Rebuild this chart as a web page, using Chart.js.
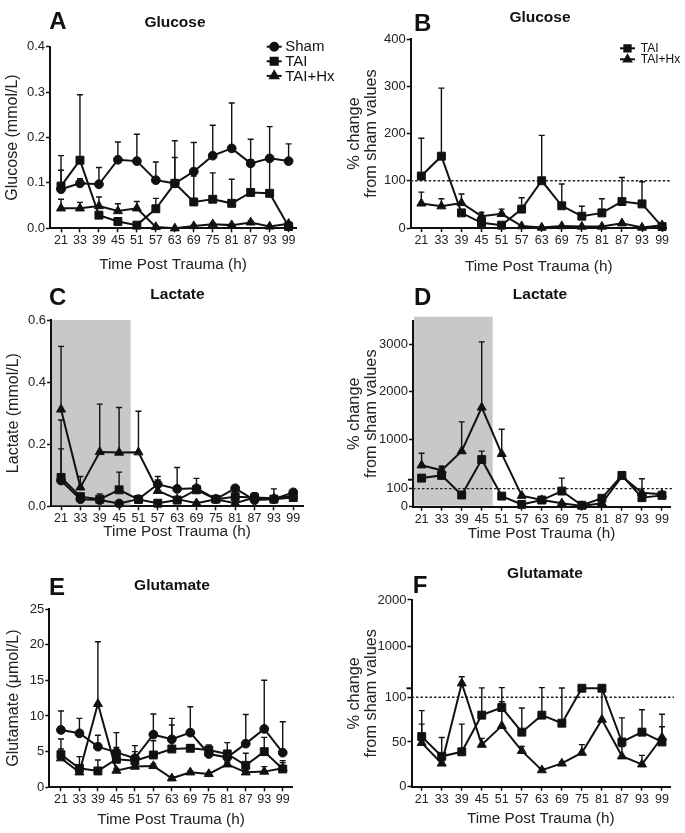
<!DOCTYPE html>
<html>
<head>
<meta charset="utf-8">
<script src="https://cdn.jsdelivr.net/npm/chart.js@4"></script>
<style>
  body { margin: 0; background: #fff; width: 685px; height: 833px; position: relative; overflow: hidden;
         font-family: "Liberation Sans", Arial, Helvetica, sans-serif; }
  canvas { position: absolute; }
  .lbl { position: absolute; font-weight: bold; line-height: 1; color: #111; white-space: nowrap; }
</style>
</head>
<body>
<canvas id="pA"></canvas><canvas id="pB"></canvas>
<canvas id="pC"></canvas><canvas id="pD"></canvas>
<canvas id="pE"></canvas><canvas id="pF"></canvas>
<script>
const FAM = '"Liberation Sans", Arial, Helvetica, sans-serif';
const times = ['21','33','39','45','51','57','63','69','75','81','87','93','99'];

// A - glucose (mmol/L)
const gluSham    = [0.086,0.099,0.097,0.151,0.148,0.106,0.099,0.125,0.160,0.176,0.143,0.154,0.148];
const gluShamErr = [0.042,0.010,0.037,0.039,0.059,0.040,0.057,0.064,0.067,0.100,0.053,0.070,0.038];
const gluTai     = [0.093,0.150,0.029,0.015,0.007,0.043,0.099,0.058,0.064,0.055,0.079,0.077,0.004];
const gluTaiErr  = [0.067,0.144,0.005,0.004,0.003,0.023,0.094,0.057,0.058,0.053,0.072,0.078,0.004];
const gluHx      = [0.044,0.044,0.049,0.038,0.044,0.003,0.000,0.005,0.009,0.007,0.013,0.004,0.010];
const gluHxErr   = [0.020,0.013,0.020,0.016,0.015,0.002,0.001,0.002,0.003,0.002,0.003,0.002,0.004];
// B - glucose % of sham
const gluPctTai    = [110,152,32,11,6,40,100,47,25,32,56,51,3];
const gluPctTaiErr = [80,144,6,4,3,24,96,46,21,30,51,47,2];
const gluPctHx     = [52,46,53,25,30,4,1,4,3,3,10,1,6];
const gluPctHxErr  = [24,16,19,8,10,1,1,1,1,1,2,1,2];
// C - lactate (mmol/L)
const lacSham    = [0.083,0.023,0.020,0.009,0.023,0.071,0.056,0.058,0.023,0.058,0.020,0.023,0.045];
const lacShamErr = [0.102,0.005,0.020,0.005,0.005,0.025,0.069,0.032,0.005,0.005,0.005,0.033,0.005];
const lacTai     = [0.093,0.031,0.023,0.053,0.022,0.010,0.020,0.053,0.023,0.031,0.028,0.023,0.028];
const lacTaiErr  = [0.185,0.005,0.005,0.057,0.005,0.005,0.005,0.005,0.010,0.005,0.016,0.005,0.005];
const lacHx      = [0.312,0.061,0.175,0.173,0.174,0.050,0.023,0.010,0.023,0.010,0.028,0.026,0.034];
const lacHxErr   = [0.203,0.035,0.154,0.145,0.132,0.035,0.005,0.005,0.005,0.005,0.005,0.005,0.005];
// D - lactate % of sham
const lacPctTai    = [184,241,65,575,59,13,37,87,8,47,241,50,63];
const lacPctTaiErr = [20,177,5,177,5,5,5,97,5,10,20,10,10];
const lacPctHx     = [454,348,752,1672,694,61,37,19,4,19,220,78,69];
const lacPctHxErr  = [255,85,616,1382,519,5,5,5,5,5,10,93,16];
// E - glutamate (umol/L)
const gltSham    = [8.04,7.57,5.70,4.90,4.07,7.38,6.73,7.66,4.67,4.20,6.12,8.18,4.86];
const gltShamErr = [2.66,2.10,1.60,2.76,1.77,2.90,2.94,3.64,1.26,2.06,4.08,6.82,4.34];
const gltTai     = [4.58,2.66,2.29,3.93,3.74,4.53,5.37,5.47,5.23,4.67,3.08,5.00,2.57];
const gltTaiErr  = [2.20,1.64,1.54,1.67,1.26,2.00,3.37,0.50,0.40,0.50,1.69,2.00,1.17];
const gltHx      = [4.07,2.10,11.7,2.34,2.90,2.99,1.26,2.10,1.87,3.22,2.10,2.20,2.66];
const gltHxErr   = [1.30,0.30,8.70,0.30,0.30,0.30,0.20,0.20,0.20,0.30,0.20,0.70,0.80];
// F - glutamate % of sham
const gltPctTai    = [56,34,39,80,88.5,61,80,71,112,112,50,61,50];
const gltPctTaiErr = [29,21,31,40,36,27,45,47,0,0,27,25,31];
const gltPctHx     = [49,26,217,47,68,40,18.5,26,38,75,34,25,55];
const gltPctHxErr  = [21,3,141,7,27,5,2,2,9,37,11,10,12];

// y tick lists
const ticksA = [0,0.1,0.2,0.3,0.4];
const ticksB = [0,100,200,300,400];
const ticksC = [0,0.2,0.4,0.6];
const ticksD = [0,100,1000,2000,3000];
const ticksE = [0,5,10,15,20,25];
const ticksF = [0,50,100,1000,2000];

// broken y axis: lower part [min, breakAt] takes lowerFrac of the height
class SegmentedScale extends Chart.LinearScale {
  getPixelForValue(value) {
    if (value === null || value === undefined) return NaN;
    const brk = this.options.breakAt, frac = this.options.lowerFrac;
    const h = this.bottom - this.top;
    if (value <= brk) return this.bottom - (value - this.min) / (brk - this.min) * frac * h;
    return this.bottom - frac * h - (value - brk) / (this.max - brk) * (1 - frac) * h;
  }
  getValueForPixel(pixel) {
    const brk = this.options.breakAt, frac = this.options.lowerFrac;
    const h = this.bottom - this.top;
    const d = this.bottom - pixel;
    if (d <= frac * h) return this.min + d / (frac * h) * (brk - this.min);
    return brk + (d - frac * h) / ((1 - frac) * h) * (this.max - brk);
  }
}
SegmentedScale.id = 'segmented';
SegmentedScale.defaults = Chart.LinearScale.defaults;
Chart.register(SegmentedScale);

const deco = {
  id: 'deco',
  beforeDatasetsDraw(chart) {
    const o = chart.options.plugins.deco || {};
    const { ctx, chartArea: a, scales: { x, y } } = chart;
    ctx.save();
    if (o.shadeTo != null) {
      ctx.fillStyle = '#c8c8c8';
      const x1 = x.getPixelForValue(o.shadeTo);
      const top = a.top - (o.shadeOver || 0);
      ctx.fillRect(a.left + 1, top, x1 - a.left - 1, a.bottom - 1 - top);
    }
    if (o.refLine != null) {
      const py = y.getPixelForValue(o.refLine);
      ctx.strokeStyle = '#222';
      ctx.lineWidth = 1.3;
      ctx.setLineDash([2.5, 2]);
      ctx.beginPath(); ctx.moveTo(a.left, py); ctx.lineTo(a.right + 4, py); ctx.stroke();
      ctx.setLineDash([]);
    }
    // error bars (upper side)
    ctx.strokeStyle = '#111';
    ctx.lineWidth = 1.4;
    chart.data.datasets.forEach(ds => {
      if (!ds.errs) return;
      ds.data.forEach((p, i) => {
        const e = ds.errs[i];
        if (!e) return;
        const px = x.getPixelForValue(p.x);
        const py0 = y.getPixelForValue(p.y), py1 = y.getPixelForValue(p.y + e);
        ctx.beginPath();
        ctx.moveTo(px, py0); ctx.lineTo(px, py1);
        ctx.moveTo(px - 3, py1); ctx.lineTo(px + 3, py1);
        ctx.stroke();
      });
    });
    ctx.restore();
  },
  afterDraw(chart) {
    const o = chart.options.plugins.deco || {};
    const { ctx, chartArea: a, scales: { y } } = chart;
    ctx.save();
    if (o.breakMark) {
      const py = y.getPixelForValue(y.options.breakAt);
      ctx.strokeStyle = '#111'; ctx.lineWidth = 2;
      ctx.beginPath(); ctx.moveTo(a.left - 5, py); ctx.lineTo(a.left, py); ctx.stroke();
    }
    const L = o.legend;
    if (L) {
      ctx.font = L.size + 'px ' + FAM;
      ctx.textBaseline = 'middle';
      ctx.fillStyle = '#111'; ctx.strokeStyle = '#111';
      chart.data.datasets.forEach((ds, i) => {
        const py = L.y + i * L.dy;
        ctx.lineWidth = 2;
        ctx.beginPath(); ctx.moveTo(L.x, py); ctx.lineTo(L.x + L.len, py); ctx.stroke();
        Chart.helpers.drawPoint(ctx, { pointStyle: ds.pointStyle, radius: ds.pointRadius * (L.scale || 1), rotation: 0, borderWidth: 1 },
          L.x + L.len / 2, py);
        ctx.fillStyle = '#111';
        ctx.fillText(ds.label, L.x + L.len + L.gap, py + 0.5);
      });
    }
    ctx.restore();
  }
};

function series(label, vals, errs, style, r) {
  return {
    label, errs, pointStyle: style, pointRadius: r, pointHoverRadius: r,
    data: vals.map((v, i) => ({ x: i, y: v })),
    borderColor: '#111', backgroundColor: '#111', pointBackgroundColor: '#111', pointBorderColor: '#111',
    borderWidth: 2, pointBorderWidth: 1, tension: 0, clip: false
  };
}

function panel(p) {
  const cv = document.getElementById(p.id);
  const b = p.box, a = p.area;
  cv.width = b.w; cv.height = b.h;
  Object.assign(cv.style, { left: b.x + 'px', top: b.y + 'px', width: b.w + 'px', height: b.h + 'px' });
  const axisGrid = { display: true, drawOnChartArea: false, drawTicks: true, tickLength: 4, tickWidth: 1.5, tickColor: '#111' };
  const two = Array.isArray(p.yTitle);
  const yScale = Object.assign({
    min: 0, max: p.yMax,
    afterBuildTicks: s => { s.ticks = p.yTicks.map(v => ({ value: v })); },
    afterFit: s => { s.width = a.l - b.x; },
    ticks: { font: { size: 13, family: FAM }, color: '#222', padding: 1, callback: p.yFmt || (v => v) },
    grid: axisGrid,
    border: { display: true, color: '#111', width: 2 },
    title: { display: true, text: p.yTitle, color: '#222',
             font: { size: two ? 16.3 : 16, family: FAM, lineHeight: two ? 1.03 : 1.1 },
             padding: { top: p.yTitlePad, bottom: 0 } }
  }, p.yExtra || { type: 'linear' });
  new Chart(cv, {
    type: 'line',
    data: { datasets: p.sets },
    options: {
      responsive: false, animation: false,
      layout: { padding: { left: 0, top: a.t - b.y, right: b.x + b.w - a.r, bottom: 0 } },
      scales: {
        x: {
          type: 'linear', min: p.xr[0], max: p.xr[1],
          afterBuildTicks: s => { s.ticks = times.map((t, i) => ({ value: i })); },
          afterFit: s => { s.height = b.y + b.h - a.b; },
          ticks: { autoSkip: false, maxRotation: 0, padding: 1, font: { size: 12.5, family: FAM }, color: '#222',
                   callback: v => times[v] },
          grid: axisGrid,
          border: { display: true, color: '#111', width: 2 },
          title: { display: true, text: 'Time Post Trauma (h)', color: '#222', font: { size: 15.3, family: FAM, lineHeight: 1.11 },
                   padding: { top: 0, bottom: p.xTitlePad } }
        },
        y: yScale
      },
      plugins: { legend: { display: false }, tooltip: { enabled: false }, deco: p.deco || {} }
    },
    plugins: [deco]
  });
}

const pct = ['% change', 'from sham values'];
const fmt1 = v => v.toFixed(1);

panel({ id: 'pA', box: { x: 0, y: 0, w: 342, h: 277 }, area: { l: 50, t: 46.7, r: 296, b: 228.3 },
  xr: [-0.58, 12.39], yMax: 0.4, yTicks: ticksA, yFmt: fmt1, yTitle: 'Glucose (mmol/L)', yTitlePad: 4.2, xTitlePad: 3.5,
  sets: [series('Sham', gluSham, gluShamErr, 'circle', 4.4), series('TAI', gluTai, gluTaiErr, 'rect', 5.6),
         series('TAI+Hx', gluHx, gluHxErr, 'triangle', 5.2)],
  deco: { legend: { x: 266.7, y: 46.7, dy: 14.6, size: 15, len: 15, gap: 3.5, scale: 0.9 } } });

panel({ id: 'pB', box: { x: 342, y: 0, w: 343, h: 277 }, area: { l: 410.7, t: 39, r: 666.7, b: 228 },
  xr: [-0.53, 12.23], yMax: 400, yTicks: ticksB, yTitle: pct, yTitlePad: 4.6, xTitlePad: 2,
  sets: [series('TAI', gluPctTai, gluPctTaiErr, 'rect', 5.6), series('TAI+Hx', gluPctHx, gluPctHxErr, 'triangle', 5.2)],
  deco: { refLine: 100, legend: { x: 278, y: 48.3, dy: 11, size: 12, len: 15, gap: 5.7, scale: 0.8 } } });

panel({ id: 'pC', box: { x: 0, y: 277, w: 342, h: 266 }, area: { l: 51, t: 320, r: 303.3, b: 506.3 },
  xr: [-0.52, 12.52], yMax: 0.6, yTicks: ticksC, yFmt: fmt1, yTitle: 'Lactate (mmol/L)', yTitlePad: 5.2, xTitlePad: 2.5,
  sets: [series('Sham', lacSham, lacShamErr, 'circle', 4.4), series('TAI', lacTai, lacTaiErr, 'rect', 5.6),
         series('TAI+Hx', lacHx, lacHxErr, 'triangle', 5.2)],
  deco: { shadeTo: 3.6 } });

panel({ id: 'pD', box: { x: 342, y: 277, w: 343, h: 266 }, area: { l: 413, t: 320.7, r: 670, b: 506.7 },
  xr: [-0.43, 12.4], yMax: 3500, yTicks: ticksD, yTitle: pct, yTitlePad: 4.6, xTitlePad: 1.2,
  yExtra: { type: 'segmented', breakAt: 150, lowerFrac: 0.145 },
  sets: [series('TAI', lacPctTai, lacPctTaiErr, 'rect', 5.6), series('TAI+Hx', lacPctHx, lacPctHxErr, 'triangle', 5.2)],
  deco: { shadeTo: 3.55, shadeOver: 4, refLine: 100, breakMark: true } });

panel({ id: 'pE', box: { x: 0, y: 543, w: 342, h: 290 }, area: { l: 49.3, t: 609, r: 292.7, b: 787.3 },
  xr: [-0.63, 12.54], yMax: 25, yTicks: ticksE, yTitle: 'Glutamate (\u03bcmol/L)', yTitlePad: 5.2, xTitlePad: 5.2,
  sets: [series('Sham', gltSham, gltShamErr, 'circle', 4.4), series('TAI', gltTai, gltTaiErr, 'rect', 5.6),
         series('TAI+Hx', gltHx, gltHxErr, 'triangle', 5.2)] });

panel({ id: 'pF', box: { x: 342, y: 543, w: 343, h: 290 }, area: { l: 411.5, t: 600, r: 670, b: 786.7 },
  xr: [-0.51, 12.4], yMax: 2000, yTicks: ticksF, yTitle: pct, yTitlePad: 4.6, xTitlePad: 6.2,
  yExtra: { type: 'segmented', breakAt: 110, lowerFrac: 0.527 },
  sets: [series('TAI', gltPctTai, gltPctTaiErr, 'rect', 5.6), series('TAI+Hx', gltPctHx, gltPctHxErr, 'triangle', 5.2)],
  deco: { refLine: 100, breakMark: true } });

// panel letters and titles
function label(text, x, baseline, size, center) {
  const d = document.createElement('div');
  d.className = 'lbl';
  d.textContent = text;
  d.style.fontSize = size + 'px';
  d.style.top = (baseline - size * 0.8465) + 'px';
  d.style.left = x + 'px';
  if (center) d.style.transform = 'translateX(-50%)';
  document.body.appendChild(d);
}
[['A', 49.3, 29.8], ['B', 414, 31.7], ['C', 49, 305], ['D', 414, 305], ['E', 49, 595], ['F', 412.7, 593.3]]
  .forEach(l => label(l[0], l[1], l[2], 24, false));
[['Glucose', 175, 26.7], ['Glucose', 540, 21.7], ['Lactate', 177.5, 299], ['Lactate', 540, 299],
 ['Glutamate', 172, 590], ['Glutamate', 545, 578.3]]
  .forEach(t => label(t[0], t[1], t[2], 15.5, true));
</script>
</body>
</html>
